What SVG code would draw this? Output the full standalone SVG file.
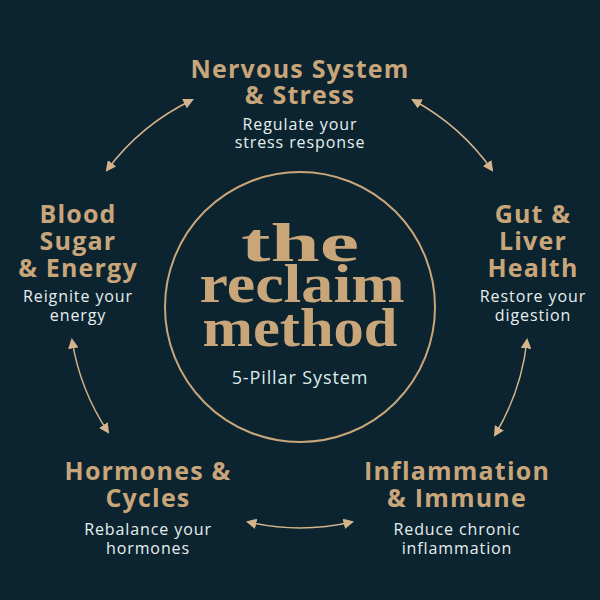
<svg xmlns="http://www.w3.org/2000/svg" width="600" height="600" viewBox="0 0 600 600">
<style>
.h{font-family:"Open Sans","Liberation Sans",sans-serif;font-weight:700;font-size:25px;letter-spacing:1.2px;fill:#c9a67a;text-anchor:middle}
.s{font-family:"Open Sans","Liberation Sans",sans-serif;font-size:16px;letter-spacing:0.9px;fill:#e6efee;text-anchor:middle}
.c{font-family:"Liberation Serif",serif;font-weight:700;font-size:54px;fill:#c9a67a;text-anchor:middle}
.a{fill:none;stroke:#d4b48a;stroke-width:1.5;marker-start:url(#m);marker-end:url(#m)}
</style>
<defs><marker id="m" viewBox="0 0 10 10" refX="8" refY="5" markerWidth="7" markerHeight="7" orient="auto-start-reverse"><path d="M0,0L10,5L0,10z" fill="#d4b48a"/></marker></defs>
<rect width="600" height="600" fill="#0c2430"/>
<g id="center">
<circle cx="300" cy="307" r="135" fill="none" stroke="#c9a67a" stroke-width="2"/>
<text class="c" x="300" y="261" textLength="118" lengthAdjust="spacingAndGlyphs">the</text>
<text class="c" x="302" y="302" textLength="205" lengthAdjust="spacingAndGlyphs">reclaim</text>
<text class="c" x="300" y="346" textLength="195" lengthAdjust="spacingAndGlyphs">method</text>
<text class="s" x="300" y="384" style="font-size:18px;fill:#dcebea">5-Pillar System</text>
</g>
<g id="nervous"><text class="h" x="300" y="78">Nervous System</text><text class="h" x="300" y="104">&amp; Stress</text><text class="s" x="300" y="130">Regulate your</text><text class="s" x="300" y="148">stress response</text></g>
<g id="blood"><text class="h" x="78" y="223">Blood</text><text class="h" x="78" y="250">Sugar</text><text class="h" x="78" y="277">&amp; Energy</text><text class="s" x="78" y="302">Reignite your</text><text class="s" x="78" y="321">energy</text></g>
<g id="gut"><text class="h" x="533" y="223">Gut &amp;</text><text class="h" x="533" y="250">Liver</text><text class="h" x="533" y="277">Health</text><text class="s" x="533" y="302">Restore your</text><text class="s" x="533" y="321">digestion</text></g>
<g id="hormones"><text class="h" x="148" y="480">Hormones &amp;</text><text class="h" x="148" y="507">Cycles</text><text class="s" x="148" y="535">Rebalance your</text><text class="s" x="148" y="554">hormones</text></g>
<g id="inflammation"><text class="h" x="457" y="480">Inflammation</text><text class="h" x="457" y="507">&amp; Immune</text><text class="s" x="457" y="535">Reduce chronic</text><text class="s" x="457" y="554">inflammation</text></g>
<g id="connectors">
<path class="a" d="M413,100 A232,232 0 0 1 492,170"/>
<path class="a" d="M192,100 A232,232 0 0 0 107,170"/>
<path class="a" d="M527,340 A232,232 0 0 1 495,435"/>
<path class="a" d="M72,340 A232,232 0 0 0 108,432"/>
<path class="a" d="M248,522 A232,232 0 0 0 352,522"/>
</g>
</svg>
